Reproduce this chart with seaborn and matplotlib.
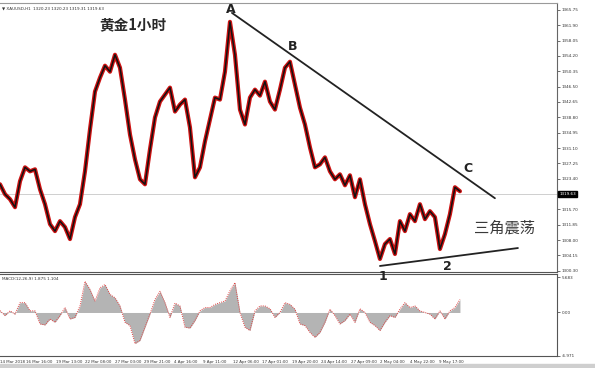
import matplotlib
matplotlib.use("Agg")
import matplotlib.pyplot as plt
import seaborn as sns
import numpy as np
import pandas as pd
from matplotlib.patches import Rectangle

sns.set_style("white")
plt.rcParams['font.family'] = ['DejaVu Sans']

price = [1322.0, 1319.5, 1318.25, 1316.25, 1322.75, 1326.25, 1325.25, 1325.75, 1320.75, 1317.0,
         1312.0, 1310.25, 1312.75, 1311.25, 1308.25, 1313.75, 1317.0, 1325.25, 1335.75, 1345.25,
         1348.75, 1351.75, 1350.25, 1354.5, 1351.25, 1343.25, 1334.5, 1328.25, 1323.25, 1322.0,
         1330.75, 1338.75, 1342.75, 1344.5, 1346.25, 1340.25, 1342.0, 1343.25, 1336.25, 1323.75,
         1326.25, 1332.75, 1338.25, 1343.75, 1343.25, 1350.25, 1362.75, 1354.5, 1340.75, 1337.0,
         1343.75, 1345.75, 1344.25, 1347.75, 1342.75, 1340.75, 1345.75, 1351.25, 1352.75, 1347.0,
         1341.25, 1337.0, 1331.25, 1326.25, 1327.0, 1328.75, 1325.25, 1323.25, 1324.5, 1321.75,
         1324.25, 1318.75, 1323.25, 1317.0, 1312.0, 1307.75, 1303.25, 1307.0, 1308.25, 1304.5,
         1312.75, 1310.25, 1314.5, 1312.75, 1317.0, 1313.25, 1315.25, 1313.75, 1305.75, 1309.5,
         1314.5, 1321.25, 1320.25]
macd = [0.3, -0.5, 0.26, -0.26, 1.58, 1.58, 0.26, 0.26, -1.84, -2.0,
        -1.05, -1.58, -0.5, 0.79, -1.05, -0.8, 1.05, 5.0, 3.7, 1.84,
        3.95, 4.5, 2.9, 2.37, 1.05, -1.58, -2.1, -5.0, -4.5, -2.37,
        -0.26, 2.1, 3.4, 1.58, -0.8, 1.5, 1.05, -2.37, -2.5, -1.3,
        0.26, 0.79, 0.79, 1.3, 1.58, 1.84, 3.5, 4.8, 0.0, -2.37,
        -2.9, 0.26, 1.05, 1.05, 0.6, -0.8, 0.0, 1.58, 1.3, 0.53,
        -1.84, -2.1, -3.2, -4.0, -3.2, -1.58, 0.53, -0.5, -1.84, -1.3,
        -0.26, -1.58, 0.6, 0.0, -1.58, -2.1, -2.9, -1.58, -0.5, -0.8,
        0.53, 1.58, 0.79, 1.05, 0.26, 0.0, -0.26, -1.05, 0.26, -1.05,
        0.26, 0.79, 2.1]
date_labels = ["14 Mar 2018", "16 Mar 16:00", "19 Mar 13:00", "22 Mar 08:00", "27 Mar 03:00",
               "29 Mar 21:00", "4 Apr 16:00", "9 Apr 11:00", "12 Apr 06:00", "17 Apr 01:00",
               "19 Apr 20:00", "24 Apr 14:00", "27 Apr 09:00", "2 May 04:00", "4 May 22:00",
               "9 May 17:00"]
price_ticks = [1300.30, 1304.15, 1308.00, 1311.85, 1315.70, 1323.40, 1327.25, 1331.10,
               1334.95, 1338.80, 1342.65, 1346.50, 1350.35, 1354.20, 1358.05, 1361.90, 1365.75]
macd_ticks = [5.683, 0.0, -6.971]
macd_tick_labels = ["5.683", "0.00", "-6.971"]
last_price = 1319.63
# trend lines (time index, price)
upper_t = [46.4, 99.0]
upper_p = [1365.0, 1318.5]
lower_t = [76.0, 103.6]
lower_p = [1301.5, 1306.0]

df = pd.DataFrame({"t": np.arange(len(price)), "price": price, "macd": macd})

# ---------------- figure ----------------
fig = plt.figure(figsize=(5.95, 3.68), dpi=100)
ax2 = fig.add_axes([0.0, 0.033, 0.936, 0.222])
ax1 = fig.add_axes([0.0, 0.261, 0.936, 0.731])
ax1.set_zorder(3)
ax1.patch.set_alpha(0)
xmax = 111.4

# price panel
ax1.axhline(last_price, color="#c8c8c8", lw=0.6, zorder=0)
sns.lineplot(data=df, x="t", y="price", ax=ax1, color="#cc1111", lw=3.0, zorder=2)
sns.lineplot(data=df, x="t", y="price", ax=ax1, color="#111111", lw=1.1, zorder=3)
sns.lineplot(x=upper_t, y=upper_p, ax=ax1, color="#222222", lw=1.3, zorder=4)
sns.lineplot(x=lower_t, y=lower_p, ax=ax1, color="#222222", lw=1.3, zorder=4)
ax1.set_xlim(0, xmax)
ax1.set_ylim(1300.0, 1367.5)
ax1.yaxis.tick_right()
ax1.set_yticks(price_ticks)
ax1.set_yticklabels([f"{v:.2f}" for v in price_ticks])
ax1.tick_params(axis="y", labelsize=3.0, length=2, width=0.5, colors="#333333", pad=1.5, direction="out")
ax1.set_xticks([])
ax1.set_xlabel("")
ax1.set_ylabel("")
ax1.spines["left"].set_visible(False)
ax1.spines["top"].set_color("#9a9a9a")
ax1.spines["right"].set_color("#666666")
ax1.spines["bottom"].set_color("#555555")
for s in ["top", "right", "bottom"]:
    ax1.spines[s].set_linewidth(0.8)

# current price box
ax1.text(1.004, last_price, f"{last_price:.2f}", transform=ax1.get_yaxis_transform(),
         fontsize=3.0, color="white", va="center", ha="left",
         bbox=dict(boxstyle="square,pad=0.25", fc="black", ec="black"), clip_on=False)

ax1.text(0.003, 0.985, "\u25bc XAUUSD,H1  1320.23 1320.23 1319.31 1319.63", transform=ax1.transAxes,
         fontsize=3.0, color="#333333", va="top", ha="left")

# annotations
ax1.text(26.6, 1362.0, "黄金1小时", fontsize=10.5, fontweight="bold", color="#2a2a2a",
         ha="center", va="center", family=["Noto Sans CJK SC", "DejaVu Sans"])
ax1.text(46.2, 1365.8, "A", fontsize=9, fontweight="bold", color="#222222", ha="center", va="center")
ax1.text(58.6, 1356.5, "B", fontsize=9, fontweight="bold", color="#222222", ha="center", va="center")
ax1.text(93.6, 1326.0, "C", fontsize=9, fontweight="bold", color="#222222", ha="center", va="center")
ax1.text(76.6, 1298.8, "1", fontsize=9, fontweight="bold", color="#222222", ha="center", va="center",
         clip_on=False, zorder=10)
ax1.text(89.4, 1301.3, "2", fontsize=9, fontweight="bold", color="#222222", ha="center", va="center")
ax1.text(101.0, 1311.0, "三角震荡", fontsize=11, color="#3a3a3a", ha="center", va="center",
         family=["Noto Sans CJK SC", "DejaVu Sans"])

# MACD panel
ax2.fill_between(df["t"], df["macd"], 0, color="#b4b4b4", lw=0)
sns.lineplot(data=df, x="t", y="macd", ax=ax2, color="#e04040", lw=0.7, linestyle=(0, (1, 1.2)))
ax2.set_xlim(0, xmax)
ax2.set_ylim(-6.79, 6.16)
ax2.yaxis.tick_right()
ax2.set_yticks(macd_ticks)
ax2.set_yticklabels(macd_tick_labels)
ax2.tick_params(axis="y", labelsize=3.0, length=2, width=0.5, colors="#333333", pad=1.5)
ax2.set_xlabel("")
ax2.set_ylabel("")
ax2.spines["left"].set_visible(False)
for s in ["top", "right", "bottom"]:
    ax2.spines[s].set_color("#555555")
    ax2.spines[s].set_linewidth(0.8)
ax2.text(0.003, 0.96, "MACD(12,26,9) 1.875 1.104", transform=ax2.transAxes,
         fontsize=3.0, color="#333333", va="top", ha="left")

# date ticks
tick_pos = [-1 + 5.9 * k for k in range(len(date_labels))]
ax2.set_xticks([p for p in tick_pos if p >= 0])
ax2.set_xticklabels([])
ax2.tick_params(axis="x", length=2, width=0.5, colors="#333333")
for p, lab in zip(tick_pos, date_labels):
    ax2.text(max(p + 0.4, 0.1), -0.05, lab, transform=ax2.get_xaxis_transform(), fontsize=2.9,
             color="#333333", ha="left", va="top", clip_on=False)

# window bottom strip
fig.patches.append(Rectangle((0, 0), 1, 4 / 368, transform=fig.transFigure, color="#cfcfcf", zorder=0))

fig.savefig("out.png", dpi=100)
